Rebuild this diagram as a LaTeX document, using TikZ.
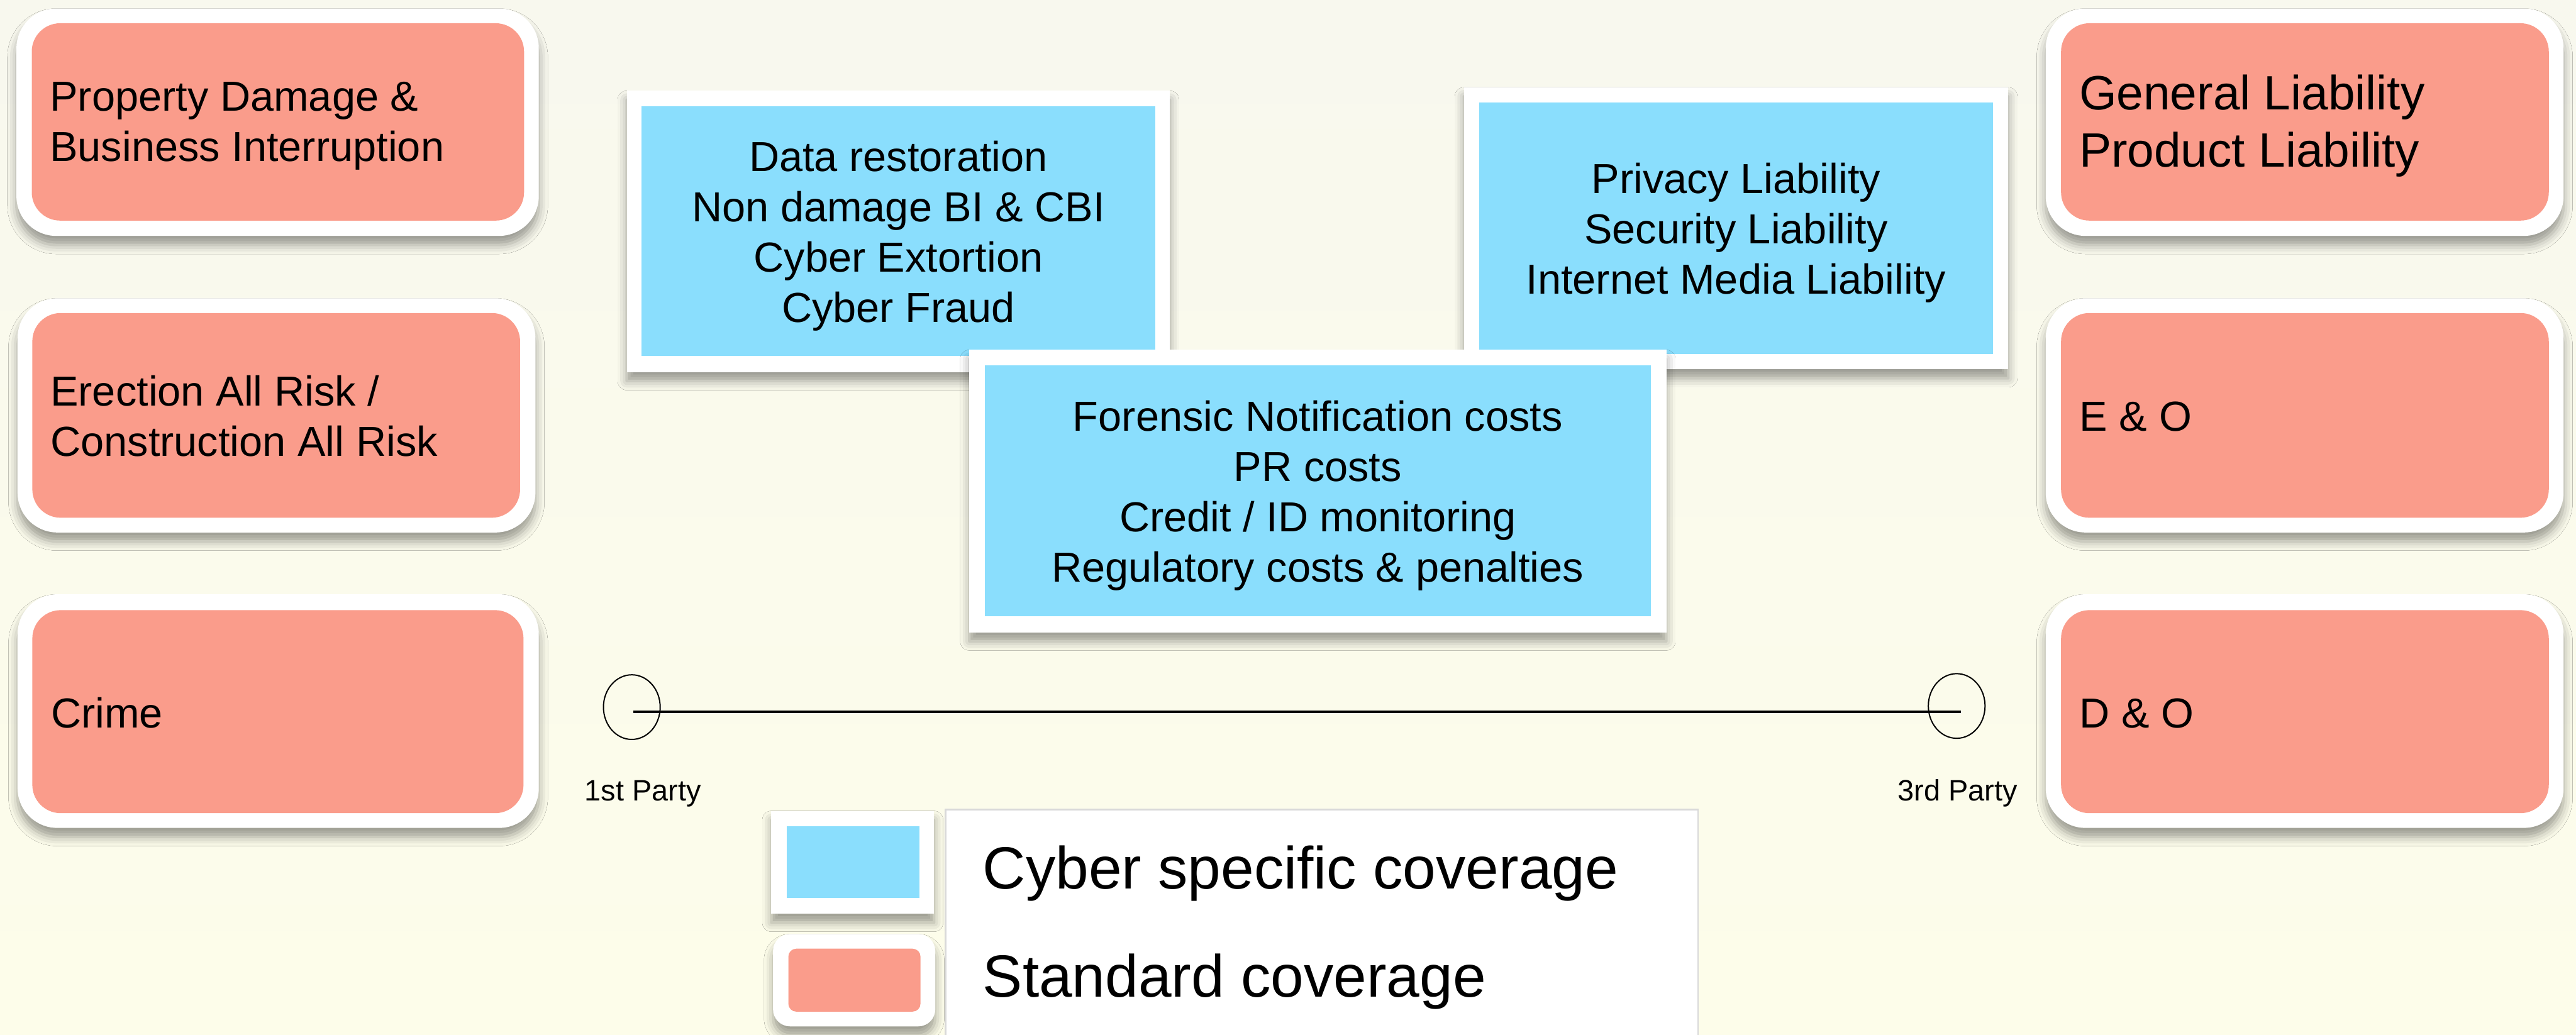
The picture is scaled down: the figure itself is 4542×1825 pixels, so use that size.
\documentclass[tikz,border=0pt]{standalone}
\usepackage{fontspec}
\setmainfont{Liberation Sans}
\usetikzlibrary{shapes.geometric,shadows.blur}

\definecolor{pinkfill}{HTML}{FA9C8B}
\definecolor{bluefill}{HTML}{8ADEFD}
\definecolor{bgtop}{HTML}{F8F8EE}
\definecolor{bgbot}{HTML}{FDFDEA}
\definecolor{panelline}{HTML}{D9D9D9}

\tikzset{
  box/.style={inner sep=0pt, outer sep=0pt, draw=none},
  softshadow/.style={blur shadow={shadow xshift=0pt, shadow yshift=-16pt,
      shadow blur radius=16pt, shadow opacity=38}},
  whiteframe/.style={box, fill=white, softshadow},
  roundframe/.style={whiteframe, rounded corners=70pt},
  pinkbox/.style={box, fill=pinkfill, rounded corners=50pt},
  bluebox/.style={box, fill=bluefill},
  bodytext/.style={inner sep=0pt, outer sep=0pt, font=\fontsize{74}{89}\selectfont},
  bigtext/.style={inner sep=0pt, outer sep=0pt, font=\fontsize{85}{101}\selectfont},
  legendtext/.style={inner sep=0pt, outer sep=0pt, font=\fontsize{105}{126}\selectfont},
  partytext/.style={inner sep=0pt, outer sep=0pt, font=\fontsize{52}{62}\selectfont},
  partyend/.style={ellipse, draw=black, line width=2.2pt, inner sep=0pt,
      minimum width=100, minimum height=114},
}

\begin{document}
\begin{tikzpicture}[x=1pt,y=-1pt]
\useasboundingbox (0,0) rectangle (4542,1825);
\shade[top color=bgtop, bottom color=bgbot] (0,0) rectangle (4542,1825);

% standard coverage, first party side
\node[roundframe, minimum width=921, minimum height=401] (pdF) at (489.5,215.5) {};
\node[pinkbox, minimum width=868, minimum height=348] (pd) at (490,215) {};
\node[bodytext, anchor=north west, align=left] (pdT) at (88,144)
  {Property Damage \&\\Business Interruption};

\node[roundframe, minimum width=913, minimum height=413] (earF) at (487.5,732.5) {};
\node[pinkbox, minimum width=860, minimum height=361] (ear) at (487,732.5) {};
\node[bodytext, anchor=north west, align=left] (earT) at (89,662)
  {Erection All Risk /\\Construction All Risk};

\node[roundframe, minimum width=919, minimum height=412] (crF) at (490.5,1254) {};
\node[pinkbox, minimum width=866, minimum height=358] (cr) at (490,1255) {};
\node[bodytext, anchor=base west] (crT) at (90,1283) {Crime};

% standard coverage, third party side
\node[roundframe, minimum width=913, minimum height=401] (glF) at (4063.5,215.5) {};
\node[pinkbox, minimum width=860, minimum height=348] (gl) at (4064,215) {};
\node[bigtext, anchor=north west, align=left] (glT) at (3666,132)
  {General Liability\\Product Liability};

\node[roundframe, minimum width=913, minimum height=413] (eoF) at (4063.5,732.5) {};
\node[pinkbox, minimum width=860, minimum height=361] (eo) at (4064,732.5) {};
\node[bodytext, anchor=base west] (eoT) at (3667,760) {E \& O};

\node[roundframe, minimum width=913, minimum height=412] (doF) at (4063.5,1254) {};
\node[pinkbox, minimum width=860, minimum height=358] (do) at (4064,1255) {};
\node[bodytext, anchor=base west] (doT) at (3667,1283) {D \& O};

% cyber specific coverage
\node[whiteframe, minimum width=958, minimum height=496] (fpF) at (1584,408) {};
\node[bluebox, minimum width=906, minimum height=441] (fp) at (1584,407.5) {};
\node[bodytext, anchor=north, align=center] (fpT) at (1584,248)
  {Data restoration\\Non damage BI \& CBI\\Cyber Extortion\\Cyber Fraud};

\node[whiteframe, minimum width=960, minimum height=497] (tpF) at (3061,402.5) {};
\node[bluebox, minimum width=906, minimum height=443] (tp) at (3061,402.5) {};
\node[bodytext, anchor=north, align=center] (tpT) at (3061,287)
  {Privacy Liability\\Security Liability\\Internet Media Liability};

\node[whiteframe, minimum width=1229, minimum height=498] (ncF) at (2323.5,866) {};
\node[bluebox, minimum width=1175, minimum height=443] (nc) at (2323.5,865.5) {};
\node[bodytext, anchor=north, align=center] (ncT) at (2323.5,706)
  {Forensic Notification costs\\PR costs\\Credit / ID monitoring\\Regulatory costs \& penalties};

% first party / third party axis
\node[partyend] (first) at (1114,1247) {};
\node[partyend] (third) at (3450,1245) {};
\draw[line width=4pt] ([shift={(3,8)}]first.center) -- ([shift={(8,10)}]third.center);
\node[partytext, anchor=base west] (firstT) at (1031,1412) {1st Party};
\node[partytext, anchor=base west] (thirdT) at (3346,1412) {3rd Party};

% legend
\node[box, fill=white, draw=panelline, line width=3pt, anchor=north west,
      minimum width=1327, minimum height=420] (panel) at (1667,1428) {};
\node[whiteframe, minimum width=287, minimum height=181] (keyCyF) at (1503.5,1520.5) {};
\node[bluebox, minimum width=234, minimum height=127] (keyCy) at (1504,1520.5) {};
\node[whiteframe, rounded corners=30pt, minimum width=286, minimum height=163] (keyStF) at (1506,1728.5) {};
\node[box, fill=pinkfill, rounded corners=14pt, minimum width=233, minimum height=111] (keySt) at (1506.5,1728.5) {};
\node[legendtext, anchor=base west] (keyCyT) at (1733,1567) {Cyber specific coverage};
\node[legendtext, anchor=base west] (keyStT) at (1733,1758) {Standard coverage};
\end{tikzpicture}
\end{document}
